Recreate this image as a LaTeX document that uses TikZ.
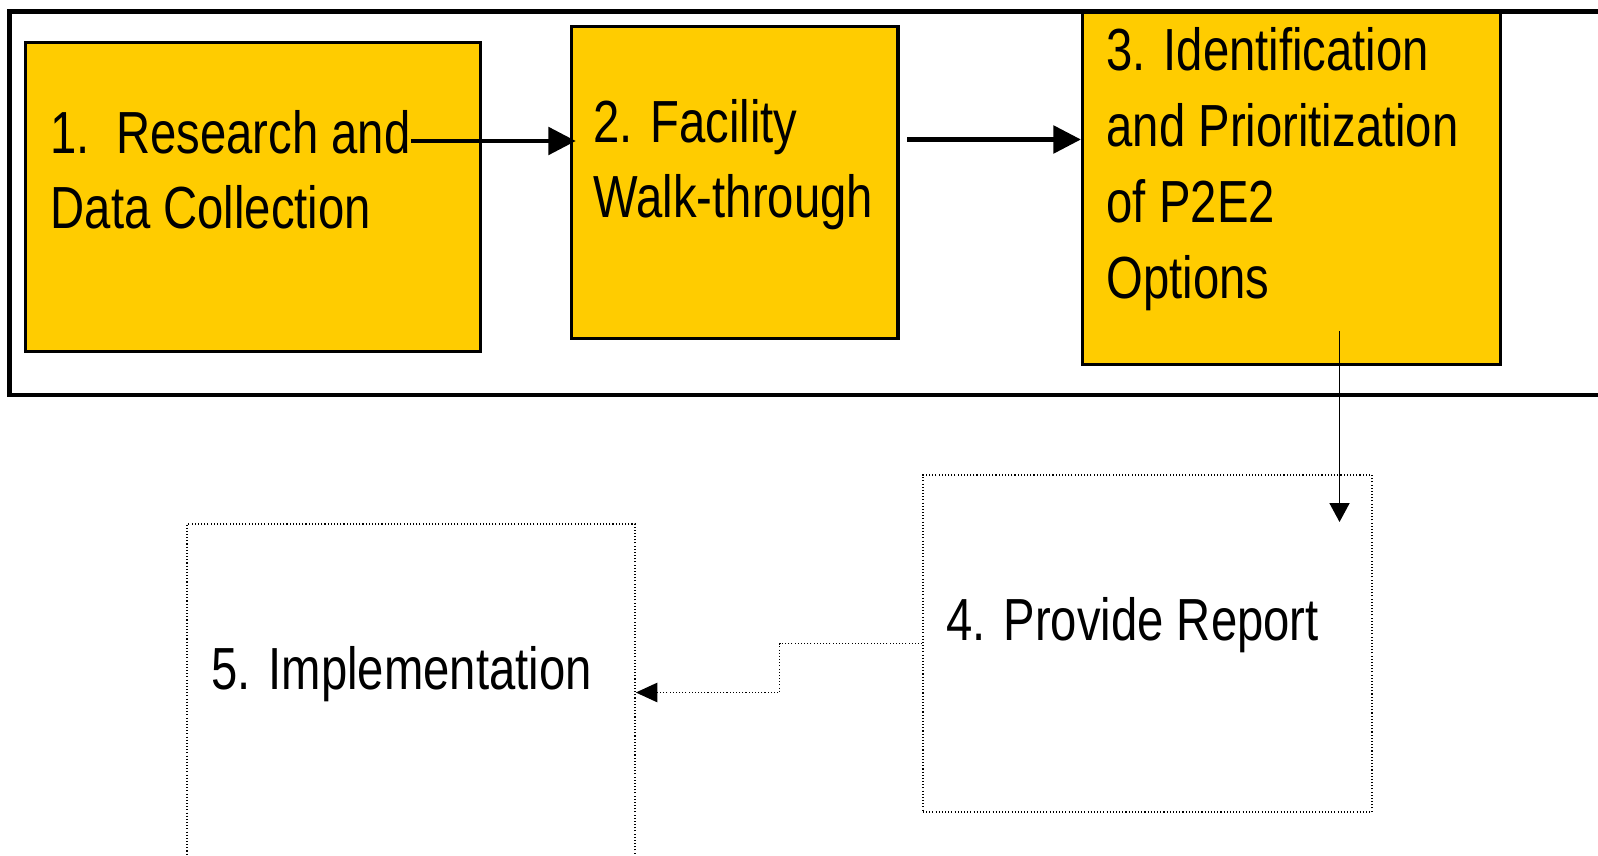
\documentclass[tikz,border=0pt]{standalone}
\usepackage{fontspec}
\setmainfont{Liberation Sans}[FakeStretch=0.795]
\usetikzlibrary{arrows.meta}
\definecolor{stagefill}{HTML}{FFCC00}

\tikzset{
	stage/.style={draw=black, line width=0.9pt, fill=stagefill, inner sep=0pt},
	openstage/.style={draw=black, line width=0.4pt, dash pattern=on 0.3pt off 0.6pt, inner sep=0pt},
	steptext/.style={anchor=base west, inner sep=0pt, align=left,
		font=\fontsize{16.9}{21.55}\selectfont},
	flow/.style={line width=1.15pt, -{Triangle[length=7.8pt,width=7.8pt]}},
	thinflow/.style={line width=0.45pt, -{Triangle[length=5.4pt,width=5.7pt]}},
	dotflow/.style={line width=0.4pt, dash pattern=on 0.3pt off 0.6pt,
		-{Triangle[length=6.1pt,width=5.5pt]}}
}

\begin{document}
\begin{tikzpicture}[x=0.01cm,y=-0.01cm]
	\useasboundingbox (0,0) rectangle (1598,855);
	% outer frame round the first three steps
	\draw [line width=1.4pt] (9.6,11.7) rectangle (1650,395);
	%
	\node [stage, minimum width=4.54cm, minimum height=3.08cm] (s1) at (253,197) {};
	\node [stage, minimum width=3.265cm, minimum height=3.11cm] (s2) at (734.7,182.5) {};
	\node [stage, minimum width=4.175cm, minimum height=3.51cm] (s3) at (1291.3,188.5) {};
	\node [openstage, minimum width=4.487cm, minimum height=3.37cm] (s4) at (1147.4,643.5) {};
	\node [openstage, minimum width=4.48cm, minimum height=3.37cm] (s5) at (411,692.5) {};
	%
	% text nodes sit on the baseline of their last line
	\node [steptext] (t1) at (50,229) {1.\ \ Research and\\Data Collection};
	\node [steptext] (t2) at (593,218) {2. Facility\\Walk-through};
	\node [steptext] (t3) at (1106,298) {3. Identification\\and Prioritization\\of P2E2\\Options};
	\node [steptext] (t4) at (946,640) {4. Provide Report};
	\node [steptext] (t5) at (211,689) {5. Implementation};
	%
	\coordinate (r1) at (411,141);
	\coordinate (r2) at (907,139.5);
	\coordinate (r3) at (1339.5,331);
	\coordinate (r4) at (1339.5,522);
	\coordinate (bend) at (779.5,667);
	\draw [flow] (r1) -- ([xshift=0.06cm]s2.west |- r1);
	\draw [flow] (r2) -- (s3.west |- r2);
	\draw [thinflow] (r3) -- (r4);
	\draw [dotflow] (s4.west) -| (bend) |- (s5.east);
\end{tikzpicture}
\end{document}
